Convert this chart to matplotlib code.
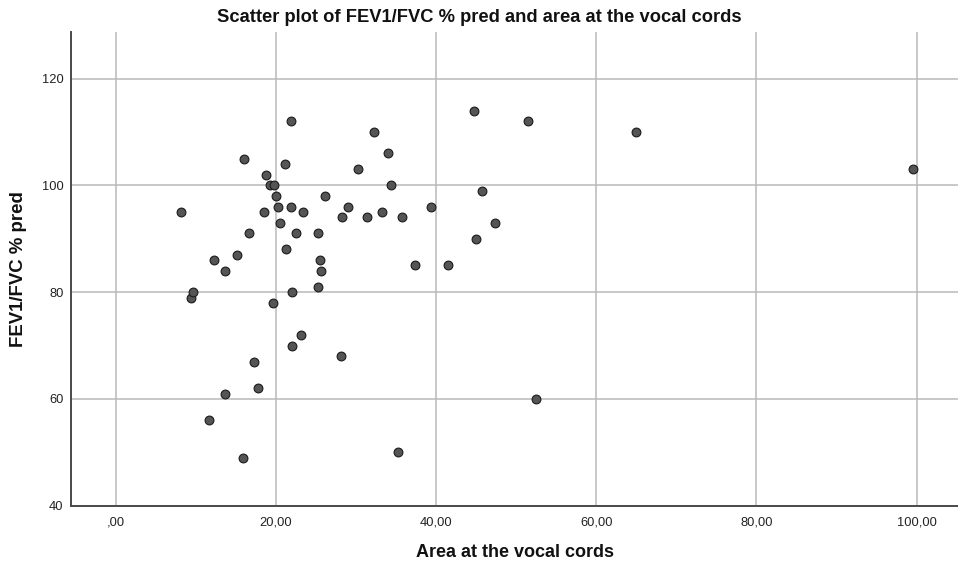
import matplotlib
matplotlib.use("Agg")
import matplotlib.pyplot as plt
from matplotlib.ticker import FuncFormatter

# Area at the vocal cords and FEV1/FVC % predicted, one entry per subject
area = [8.1, 9.4, 9.7, 12.3, 13.7, 15.1, 16.6, 20.45, 21.25, 19.6,
        18.5, 16.0, 18.7, 19.2, 19.8, 20.0, 20.25, 21.1, 21.85, 32.3,
        33.95, 30.3, 34.4, 26.1, 21.9, 23.4, 29.0, 28.2, 31.4, 33.25,
        35.8, 22.5, 25.2, 25.45, 25.6, 25.25, 22.0, 23.1, 37.4, 17.25,
        22.0, 45.7, 39.4, 47.3, 45.0, 41.5, 28.1, 44.75, 51.45, 64.9,
        99.5, 13.6, 17.75, 11.6, 15.9, 35.2, 52.45]
fev1_fvc = [95, 79, 80, 86, 84, 87, 91, 93, 88, 78,
            95, 105, 102, 100, 100, 98, 96, 104, 112, 110,
            106, 103, 100, 98, 96, 95, 96, 94, 94, 95,
            94, 91, 91, 86, 84, 81, 80, 72, 85, 67,
            70, 99, 96, 93, 90, 85, 68, 114, 112, 110,
            103, 61, 62, 56, 49, 50, 60]

x_ticks = [0, 20, 40, 60, 80, 100]
y_ticks = [40, 60, 80, 100, 120]

plt.rcParams['font.family'] = ['Liberation Sans', 'DejaVu Sans']


def comma_decimal(v, pos):
    s = f"{v:.2f}".replace('.', ',')
    return s.lstrip('0') if v == 0 else s


fig = plt.figure(figsize=(9.58, 5.65), dpi=100)
ax = fig.add_axes([70.5 / 958, 59.3 / 565, 1 - 70.5 / 958 + 0.002, 474 / 565])

ax.scatter(area, fev1_fvc, s=40, facecolor='#555555', edgecolor='#1a1a1a',
           linewidths=0.8, zorder=3)

ax.set_xlim(-5.65, 105.4)
ax.set_ylim(40, 128.8)
ax.set_xticks(x_ticks)
ax.set_yticks(y_ticks)
ax.xaxis.set_major_formatter(FuncFormatter(comma_decimal))

ax.grid(True, color='#b9b9b9', linewidth=1.1, zorder=0)
ax.set_axisbelow(True)

for side in ('top', 'right'):
    ax.spines[side].set_visible(False)
for side in ('left', 'bottom'):
    ax.spines[side].set_color('#4a4a4a')
    ax.spines[side].set_linewidth(1.4)

ax.tick_params(axis='both', length=0, labelsize=9.3, colors='#222222')
ax.tick_params(axis='x', pad=8)
ax.tick_params(axis='y', pad=5)

ax.set_xlabel('Area at the vocal cords', fontsize=13, fontweight='bold',
              color='#111111')
ax.xaxis.label.set_va('center')
ax.xaxis.set_label_coords(0.5, -0.0977)

ax.set_ylabel('FEV1/FVC % pred', fontsize=13.4, fontweight='bold',
              color='#111111')
ax.yaxis.label.set_va('center')
ax.yaxis.set_label_coords(-0.0585, 0.5)

fig.text(0.5, 1 - 18 / 565, 'Scatter plot of FEV1/FVC % pred and area at the vocal cords',
         ha='center', va='center', fontsize=13.2, fontweight='bold', color='#111111')

fig.savefig('out.png', dpi=100, facecolor='white')
